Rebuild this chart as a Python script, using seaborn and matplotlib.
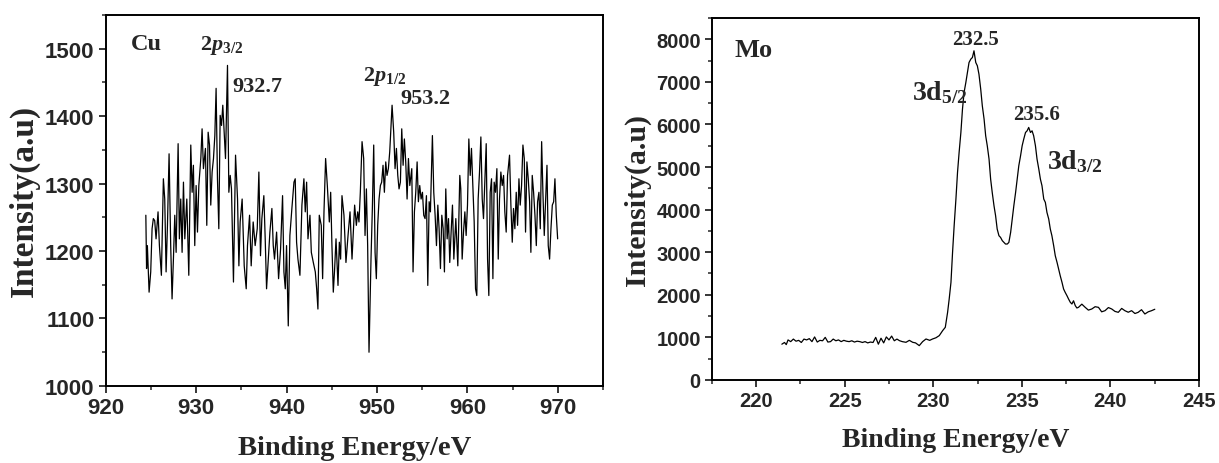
import matplotlib
matplotlib.use("Agg")
import matplotlib.pyplot as plt
import seaborn as sns
from matplotlib.ticker import MultipleLocator

# ================= DATA =================
cu_energy = [
    924.44, 924.52, 924.61, 924.80, 924.98, 925.13, 925.27, 925.42, 925.57, 925.79,
    925.94, 926.16, 926.38, 926.53, 926.68, 926.83, 927.01, 927.19, 927.34, 927.49,
    927.64, 927.79, 928.01, 928.15, 928.30, 928.45, 928.60, 928.75, 928.97, 929.19,
    929.41, 929.56, 929.70, 929.85, 930.00, 930.15, 930.30, 930.52, 930.66, 930.81,
    931.03, 931.18, 931.33, 931.48, 931.62, 931.77, 931.92, 932.07, 932.21, 932.36,
    932.51, 932.66, 932.81, 932.95, 933.10, 933.25, 933.47, 933.62, 933.77, 933.91,
    934.13, 934.36, 934.58, 934.73, 934.87, 935.09, 935.32, 935.54, 935.68, 935.91,
    936.09, 936.31, 936.53, 936.76, 936.94, 937.12, 937.27, 937.49, 937.64, 937.79,
    937.94, 938.16, 938.38, 938.53, 938.67, 938.90, 939.12, 939.34, 939.56, 939.71,
    939.86, 940.00, 940.19, 940.37, 940.59, 940.82, 940.96, 941.11, 941.26, 941.48,
    941.70, 941.92, 942.07, 942.22, 942.37, 942.59, 942.74, 942.96, 943.18, 943.33,
    943.47, 943.62, 943.84, 943.99, 944.14, 944.32, 944.51, 944.73, 944.88, 945.02,
    945.17, 945.32, 945.47, 945.69, 945.84, 945.98, 946.13, 946.35, 946.57, 946.80,
    947.02, 947.24, 947.53, 947.72, 947.87, 948.01, 948.16, 948.35, 948.53, 948.68,
    948.83, 948.97, 949.12, 949.34, 949.49, 949.64, 949.79, 949.93, 950.08, 950.23,
    950.38, 950.52, 950.67, 950.82, 950.97, 951.11, 951.26, 951.41, 951.56, 951.67,
    951.85, 952.00, 952.15, 952.30, 952.44, 952.59, 952.74, 952.89, 953.03, 953.18,
    953.33, 953.48, 953.63, 953.85, 953.99, 954.14, 954.29, 954.44, 954.58, 954.73,
    954.88, 955.03, 955.17, 955.32, 955.47, 955.62, 955.77, 955.91, 956.13, 956.28,
    956.43, 956.58, 956.73, 956.87, 957.02, 957.17, 957.32, 957.46, 957.61, 957.76,
    957.91, 958.05, 958.20, 958.35, 958.50, 958.72, 958.94, 959.16, 959.27, 959.42,
    959.57, 959.72, 959.86, 960.01, 960.16, 960.31, 960.45, 960.60, 960.75, 960.90,
    961.04, 961.19, 961.34, 961.49, 961.64, 961.78, 961.93, 962.08, 962.23, 962.37,
    962.52, 962.67, 962.82, 962.96, 963.11, 963.26, 963.41, 963.55, 963.70, 963.85,
    964.00, 964.14, 964.29, 964.44, 964.66, 964.81, 964.96, 965.10, 965.25, 965.40,
    965.55, 965.70, 965.84, 965.99, 966.14, 966.29, 966.43, 966.58, 966.73, 966.88,
    967.02, 967.17, 967.32, 967.47, 967.62, 967.76, 967.91, 968.06, 968.21, 968.35,
    968.50, 968.65, 968.80, 968.94, 969.09, 969.24, 969.39, 969.54, 969.68, 969.83,
    969.98,
]
cu_intensity = [
    1253, 1174, 1208, 1139, 1169, 1233, 1248, 1245, 1218, 1258,
    1208, 1164, 1307, 1277, 1169, 1238, 1344, 1208, 1129, 1188,
    1253, 1198, 1359, 1218, 1277, 1198, 1302, 1218, 1277, 1164,
    1357, 1287, 1327, 1208, 1297, 1228, 1297, 1337, 1381, 1322,
    1352, 1238, 1376, 1357, 1268, 1317, 1337, 1371, 1441, 1307,
    1233, 1401, 1386, 1416, 1376, 1337, 1475, 1287, 1312, 1292,
    1154, 1342, 1277, 1178, 1243, 1277, 1178, 1144, 1208, 1253,
    1178, 1243, 1208, 1233, 1317, 1193, 1248, 1282, 1218, 1144,
    1178, 1228, 1263, 1208, 1188, 1228, 1159, 1203, 1282, 1169,
    1144, 1208, 1089, 1223, 1263, 1302, 1307, 1213, 1188, 1164,
    1268, 1307, 1258, 1302, 1218, 1253, 1198, 1183, 1169, 1144,
    1114, 1253, 1238, 1159, 1258, 1337, 1297, 1243, 1287, 1208,
    1139, 1174, 1218, 1149, 1213, 1188, 1282, 1253, 1183, 1223,
    1258, 1188, 1268, 1238, 1258, 1243, 1287, 1362, 1337, 1223,
    1292, 1208, 1050, 1188, 1263, 1357, 1198, 1159, 1238, 1277,
    1297, 1302, 1327, 1287, 1332, 1312, 1322, 1347, 1386, 1416,
    1376, 1322, 1352, 1312, 1292, 1302, 1381, 1327, 1366, 1332,
    1277, 1337, 1297, 1322, 1169, 1258, 1287, 1332, 1273, 1297,
    1277, 1287, 1253, 1248, 1282, 1149, 1273, 1258, 1371, 1287,
    1253, 1208, 1268, 1233, 1174, 1253, 1233, 1169, 1292, 1218,
    1248, 1183, 1228, 1268, 1188, 1248, 1178, 1312, 1292, 1188,
    1228, 1258, 1223, 1268, 1366, 1312, 1352, 1297, 1243, 1144,
    1134, 1277, 1317, 1369, 1277, 1248, 1302, 1359, 1188, 1134,
    1287, 1307, 1159, 1302, 1287, 1322, 1188, 1277, 1317, 1297,
    1312, 1258, 1228, 1312, 1342, 1268, 1213, 1263, 1233, 1287,
    1238, 1307, 1268, 1297, 1357, 1337, 1228, 1332, 1307, 1273,
    1198, 1312, 1287, 1253, 1208, 1273, 1287, 1233, 1362, 1287,
    1223, 1277, 1327, 1208, 1188, 1233, 1268, 1273, 1307, 1253,
    1218,
]

mo_energy = [
    221.45, 221.60, 221.70, 221.80, 221.95, 222.10, 222.25, 222.40, 222.55, 222.70,
    222.85, 223.00, 223.15, 223.30, 223.45, 223.60, 223.75, 223.90, 224.05, 224.20,
    224.35, 224.50, 224.65, 224.80, 224.95, 225.10, 225.25, 225.40, 225.55, 225.70,
    225.85, 226.00, 226.15, 226.30, 226.45, 226.60, 226.75, 226.90, 227.05, 227.20,
    227.35, 227.50, 227.65, 227.80, 227.95, 228.09, 228.25, 228.46, 228.65, 228.84,
    229.00, 229.21, 229.40, 229.59, 229.80, 229.96, 230.15, 230.34, 230.53, 230.68,
    230.81, 230.90, 231.00, 231.09, 231.18, 231.28, 231.37, 231.46, 231.56, 231.65,
    231.74, 231.84, 231.93, 232.02, 232.12, 232.21, 232.30, 232.40, 232.49, 232.58,
    232.68, 232.77, 232.87, 232.96, 233.05, 233.15, 233.24, 233.33, 233.43, 233.52,
    233.61, 233.71, 233.80, 233.90, 233.99, 234.08, 234.18, 234.27, 234.37, 234.46,
    234.55, 234.65, 234.74, 234.83, 234.93, 235.02, 235.11, 235.21, 235.30, 235.39,
    235.49, 235.58, 235.67, 235.77, 235.86, 235.96, 236.05, 236.14, 236.24, 236.33,
    236.42, 236.52, 236.61, 236.70, 236.80, 236.89, 236.99, 237.08, 237.17, 237.27,
    237.36, 237.45, 237.55, 237.64, 237.74, 237.83, 237.92, 238.02, 238.11, 238.20,
    238.39, 238.58, 238.76, 238.95, 239.14, 239.33, 239.51, 239.70, 239.89, 240.08,
    240.26, 240.45, 240.64, 240.82, 241.01, 241.20, 241.39, 241.57, 241.76, 241.95,
    242.14, 242.33, 242.51,
]
mo_intensity = [
    840, 880, 830, 940, 900, 960, 910, 930, 880, 960,
    940, 970, 900, 1010, 890, 930, 920, 1000, 890, 900,
    960, 920, 940, 900, 930, 910, 900, 920, 890, 910,
    900, 880, 900, 870, 890, 880, 1000, 840, 980, 870,
    1010, 940, 1030, 920, 960, 923, 900, 884, 930, 884,
    870, 806, 900, 962, 930, 962, 990, 1041, 1158, 1236,
    1588, 1901, 2292, 2996, 3622, 4248, 4874, 5343, 5812, 6360,
    6751, 6986, 7221, 7456, 7534, 7573, 7730, 7456, 7378, 7182,
    6830, 6439, 6126, 5734, 5500, 5187, 4717, 4404, 4091, 3857,
    3544, 3387, 3348, 3270, 3231, 3192, 3192, 3231, 3466, 3779,
    4091, 4404, 4717, 5030, 5265, 5500, 5656, 5812, 5851, 5930,
    5812, 5851, 5734, 5500, 5187, 4952, 4717, 4561, 4248, 4170,
    3935, 3779, 3544, 3387, 3153, 2918, 2761, 2605, 2448, 2292,
    2136, 2057, 1979, 1901, 1823, 1784, 1860, 1745, 1690, 1705,
    1780, 1705, 1640, 1666, 1720, 1705, 1600, 1627, 1700, 1666,
    1610, 1588, 1680, 1627, 1590, 1627, 1560, 1588, 1650, 1549,
    1600, 1627, 1660,
]

cu_labels = [("2$p_{3/2}$", 930.4, 1506), ("932.7", 934.0, 1444),
             ("2$p_{1/2}$", 948.4, 1460), ("953.2", 952.6, 1426)]
mo_values = [("232.5", 232.36, 8000), ("235.6", 235.84, 6240)]
mo_peaks = [("3d$_{5/2}$", 228.8, 6780), ("3d$_{3/2}$", 236.4, 5140)]

# ================= STYLE =================
sns.set_style("ticks")
plt.rcParams["mathtext.fontset"] = "custom"
plt.rcParams["mathtext.rm"] = "Liberation Serif:bold"
plt.rcParams["mathtext.it"] = "Liberation Serif:bold:italic"
plt.rcParams["mathtext.bf"] = "Liberation Serif:bold"
plt.rcParams["font.family"] = ["Liberation Serif", "DejaVu Serif"]

fig = plt.figure(figsize=(12.19, 4.64), dpi=100)
ax1 = fig.add_axes([0.0867, 0.166, 0.408, 0.800])
ax2 = fig.add_axes([0.584, 0.179, 0.3995, 0.780])

serif = dict(family="Liberation Serif", weight="bold")


def style_axis(ax, xmaj, xmin, ymaj, ymin, tick_size, xl_size, yl_size, xl_pad, yl_pad):
    for s in ax.spines.values():
        s.set_linewidth(1.4)
        s.set_color("black")
        s.set_visible(True)
    ax.xaxis.set_major_locator(MultipleLocator(xmaj))
    ax.xaxis.set_minor_locator(MultipleLocator(xmin))
    ax.yaxis.set_major_locator(MultipleLocator(ymaj))
    ax.yaxis.set_minor_locator(MultipleLocator(ymin))
    ax.tick_params(which="major", direction="out", length=5, width=1.3,
                   top=False, right=False, pad=3)
    ax.tick_params(which="minor", direction="out", length=3, width=1.1,
                   top=False, right=False)
    for lab in ax.get_xticklabels() + ax.get_yticklabels():
        lab.set_fontfamily("Liberation Sans")
        lab.set_fontweight("bold")
        lab.set_fontsize(tick_size)
    ax.set_xlabel("Binding Energy/eV", fontsize=xl_size, labelpad=xl_pad, **serif)
    ax.set_ylabel("Intensity(a.u)", fontsize=yl_size, labelpad=yl_pad, **serif)


# ================= CU =================
sns.lineplot(x=cu_energy, y=cu_intensity, ax=ax1, color="black", lw=0.9,
             estimator=None, sort=False)
ax1.set_xlim(920, 975)
ax1.set_ylim(1000, 1550)
style_axis(ax1, 10, 5, 100, 50, 16, 20.5, 24, 12, 4)
ax1.text(922.8, 1507, "Cu", fontsize=17.5, va="center", ha="left", **serif)
for txt, x, y in cu_labels:
    ax1.text(x, y, txt, fontsize=16, va="center", ha="left", **serif)

# ================= MO =================
sns.lineplot(x=mo_energy, y=mo_intensity, ax=ax2, color="black", lw=0.9,
             estimator=None, sort=False)
ax2.set_xlim(217.5, 245)
ax2.set_ylim(0, 8500)
style_axis(ax2, 5, 2.5, 1000, 500, 14.5, 20, 21.5, 12, 4)
ax2.text(218.8, 7770, "Mo", fontsize=19, va="center", ha="left", **serif)
for txt, x, y in mo_values:
    ax2.text(x, y, txt, fontsize=15, va="center", ha="center", **serif)
for txt, x, y in mo_peaks:
    ax2.text(x, y, txt, fontsize=20, va="center", ha="left", **serif)

fig.savefig("out.png", dpi=100)
